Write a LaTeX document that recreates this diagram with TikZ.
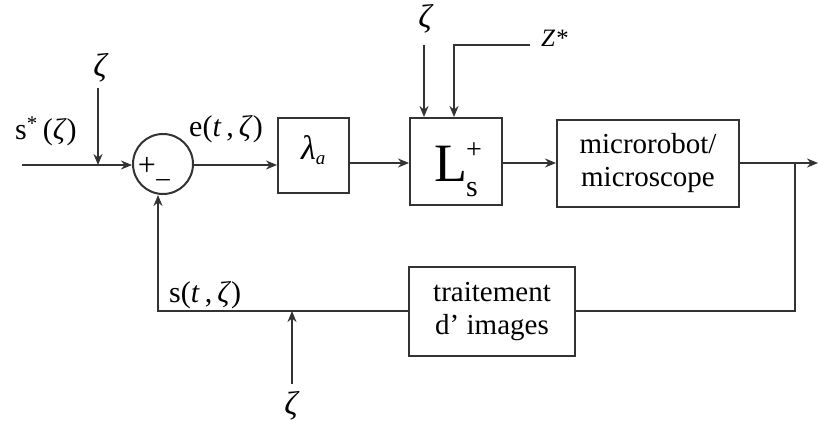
\documentclass[tikz,border=0pt]{standalone}
\usepackage{fontspec}
\setmainfont{Liberation Serif}
\usetikzlibrary{arrows.meta}
\tikzset{
  wire/.style={line width=2pt, draw=black!80},
  arr/.style={wire, -{Stealth[length=11pt,width=9pt]}},
  blk/.style={draw=black!80, line width=2pt, inner sep=0},
  lbl/.style={inner sep=0, font=\fontsize{30}{32}\selectfont},
  zeta/.style={inner sep=0, font=\fontsize{33}{34}\selectfont\itshape}
}
\begin{document}
\begin{tikzpicture}[x=1pt,y=-1pt]
\useasboundingbox (0,0) rectangle (818,430);
% blocks
\node[blk, minimum width=71pt, minimum height=75pt] (la) at (313.5,155.5) {};
\node[blk, minimum width=92pt, minimum height=87pt] (L) at (456,161.5) {};
\node[blk, minimum width=182pt, minimum height=87pt, align=center, font=\fontsize{29}{33}\selectfont] (mr) at (648,163.5) {microrobot/\\microscope};
\node[blk, minimum width=166pt, minimum height=89pt, align=center, font=\fontsize{29}{33}\selectfont] (ti) at (492,311.5) {traitement\\d' images};
\node[circle, draw=black!80, line width=2pt, minimum size=60pt, inner sep=0] (c) at (163,164) {};
% texts inside
\node[inner sep=0, anchor=base west] (Lt) at (434,182) {{\fontsize{54}{54}\selectfont L}\kern-1pt\rlap{\raisebox{23pt}{\fontsize{28}{28}\selectfont +}}\raisebox{-15pt}{\fontsize{30}{30}\selectfont s}};
\node[inner sep=0, anchor=base west] (lat) at (301,160) {{\fontsize{34}{34}\selectfont\itshape λ}\raisebox{-5pt}{\fontsize{19}{19}\selectfont\itshape a}};
\node[inner sep=0, font=\fontsize{32}{32}\selectfont] (plus) at (147,166) {+};
\node[inner sep=0, font=\fontsize{27}{27}\selectfont] (minus) at (163,183) {–};
% labels
\node[lbl, anchor=base west] (sst) at (15,140) {s\textsuperscript{*}\,(\textit{ζ})};
\node[lbl, anchor=base west] (et) at (189,137) {e(\textit{t}\,,\,\textit{ζ})};
\node[lbl, anchor=base west] (st) at (169,302) {s(\textit{t}\,,\,\textit{ζ})};
\node[lbl, anchor=base west, font=\fontsize{25}{25}\selectfont\itshape] (zs) at (541,47) {Z*};
\node[zeta] (z1) at (100,68) {ζ};
\node[zeta] (z2) at (425,19) {ζ};
\node[zeta] (z3) at (291,406) {ζ};
% coordinates
\coordinate (in) at (22,165);
\coordinate (j1) at (98,165);
\coordinate (z1s) at (98,88);
\coordinate (z2s) at (424,45);
\coordinate (zsl) at (530,45);
\coordinate (zsb) at (454,45);
\coordinate (out) at (818,163);
\coordinate (br) at (795,163);
\coordinate (brb) at (795,311);
\coordinate (fl) at (158,311);
\coordinate (z3s) at (292,384);
\coordinate (z3e) at (292,311);
% connectors
\draw[arr] (in) -- (c.west |- in);
\draw[arr] (z1s) -- (j1);
\draw[arr] (c.east |- in) -- (la.west |- in);
\draw[arr] (la.east |- 0,163) -- (L.west |- 0,163);
\draw[arr] (z2s) -- (z2s |- L.north);
\draw[arr] (zsl) -- (zsb) -- (zsb |- L.north);
\draw[arr] (L.east |- 0,163) -- (mr.west |- 0,163);
\draw[arr] (mr.east |- 0,163) -- (out);
\draw[wire] (br) -- (brb) -- (ti.east |- brb);
\draw[arr] (ti.west |- fl) -- (fl) -- (fl |- c.south);
\draw[arr] (z3s) -- (z3e);
\end{tikzpicture}
\end{document}
